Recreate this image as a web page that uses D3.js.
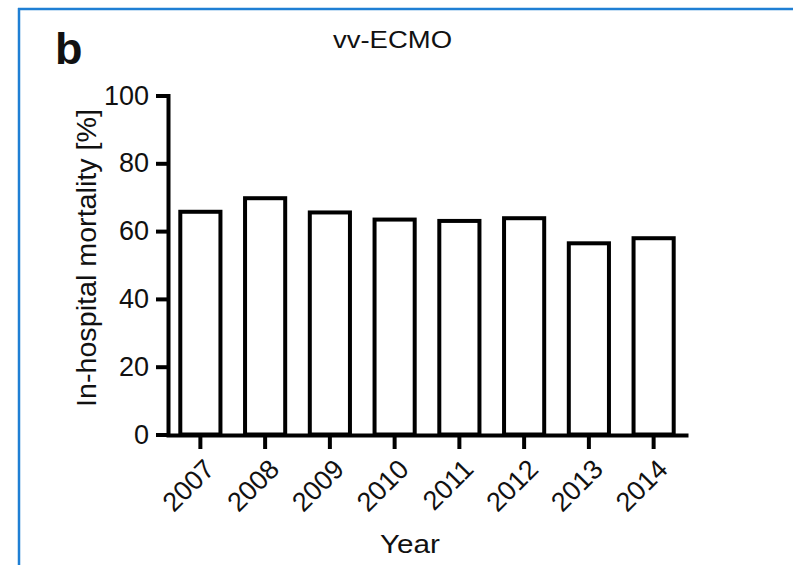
<!DOCTYPE html>
<html lang="en">
<head>
<meta charset="UTF-8">
<title>vv-ECMO in-hospital mortality</title>
<style>
    body {
        margin: 0;
        padding: 0;
        background: #fff;
    }
    svg {
        display: block;
    }
    svg text {
        font-family: 'Liberation Sans', Arial, sans-serif;
        fill: #111;
    }
    .axis path, .axis line {
        stroke: #000;
        stroke-width: 4px;
    }
    .axis text {
        font-size: 27px;
    }
    .bar {
        fill: #fff;
        stroke: #000;
        stroke-width: 4px;
    }
</style>
</head>
<body>
<svg id="chart" width="793" height="565"></svg>

<script src="https://cdnjs.cloudflare.com/ajax/libs/d3/7.8.5/d3.min.js"></script>
<script>
// data
const years = ["2007", "2008", "2009", "2010", "2011", "2012", "2013", "2014"];
const mortality = [65.7, 69.7, 65.5, 63.4, 63.0, 63.8, 56.4, 57.9];
const yTicks = [0, 20, 40, 60, 80, 100];

const svg = d3.select("#chart");

// blue frame of the figure panel
svg.append("line")
    .attr("x1", 18).attr("x2", 793).attr("y1", 9).attr("y2", 9)
    .attr("stroke", "#1f7fd4").attr("stroke-width", 2.5);
svg.append("line")
    .attr("x1", 19).attr("x2", 19).attr("y1", 8).attr("y2", 565)
    .attr("stroke", "#1f7fd4").attr("stroke-width", 2.5);

const x = d3.scaleBand()
    .domain(years)
    .range([168, 686])
    .paddingInner(0.38)
    .paddingOuter(0.19);

const y = d3.scaleLinear()
    .domain([0, 100])
    .range([434.5, 95.5]);

// bars
svg.append("g")
    .selectAll("rect")
    .data(years)
    .join("rect")
    .attr("class", "bar")
    .attr("x", d => x(d))
    .attr("width", x.bandwidth())
    .attr("y", (d, i) => y(mortality[i]))
    .attr("height", (d, i) => y(0) - y(mortality[i]));

// y axis
const yAxis = svg.append("g")
    .attr("class", "axis")
    .attr("transform", "translate(168,0)")
    .call(d3.axisLeft(y).tickValues(yTicks).tickSize(12).tickSizeOuter(0).tickPadding(7));
yAxis.select(".domain").attr("stroke-linecap", "square");

// x axis
const xAxis = svg.append("g")
    .attr("class", "axis")
    .attr("transform", "translate(0,435)")
    .call(d3.axisBottom(x).tickSize(14).tickSizeOuter(0));
xAxis.select(".domain").attr("stroke-linecap", "square");
xAxis.selectAll(".tick text")
    .attr("text-anchor", "end")
    .attr("x", 0).attr("y", 0)
    .attr("dy", "0.72em")
    .attr("transform", "translate(2,22) rotate(-45)");

// titles
svg.append("text")
    .attr("x", 55).attr("y", 64)
    .attr("font-size", 45).attr("font-weight", "bold")
    .text("b");

svg.append("text")
    .attr("x", 333).attr("y", 48)
    .attr("font-size", 23)
    .attr("textLength", 119)
    .attr("lengthAdjust", "spacingAndGlyphs")
    .text("vv-ECMO");

svg.append("text")
    .attr("text-anchor", "middle")
    .attr("transform", "translate(96,258) rotate(-90)")
    .attr("font-size", 27)
    .attr("textLength", 298)
    .attr("lengthAdjust", "spacingAndGlyphs")
    .text("In-hospital mortality [%]");

svg.append("text")
    .attr("text-anchor", "middle")
    .attr("x", 410).attr("y", 553)
    .attr("font-size", 26)
    .attr("textLength", 60)
    .attr("lengthAdjust", "spacingAndGlyphs")
    .text("Year");
</script>
</body>
</html>
